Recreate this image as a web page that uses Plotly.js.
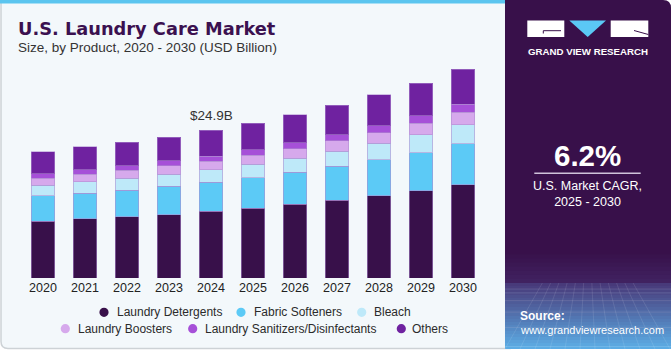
<!DOCTYPE html>
<html>
<head>
<meta charset="utf-8">
<script src="https://cdn.plot.ly/plotly-3.0.1.min.js"></script>
<style>
  html, body { margin: 0; padding: 0; background: #ffffff; }
  #chart { width: 671px; height: 350px; }
</style>
</head>
<body>
<div id="chart"></div>
<script>
// ---------- data ----------
const years = ['2020','2021','2022','2023','2024','2025','2026','2027','2028','2029','2030'];
const seriesNames = ['Laundry Detergents','Fabric Softeners','Bleach','Laundry Boosters','Laundry Sanitizers/Disinfectants','Others'];
const detergents = [9.61, 10.00, 10.34, 10.67, 11.23, 11.74, 12.41, 13.09, 13.88, 14.72, 15.73];
const fabricSofteners = [4.22, 4.33, 4.50, 4.77, 4.89, 5.18, 5.40, 5.73, 6.07, 6.41, 6.91];
const bleach = [1.79, 1.90, 2.00, 2.02, 2.14, 2.25, 2.42, 2.54, 2.75, 3.03, 3.20];
const boosters = [1.24, 1.25, 1.29, 1.43, 1.47, 1.57, 1.59, 1.75, 1.81, 1.97, 2.14];
const sanitizers = [0.73, 0.79, 0.79, 0.88, 0.84, 0.89, 1.01, 1.01, 1.13, 1.23, 1.35];
const others = [3.66, 3.83, 4.00, 4.00, 4.32, 4.50, 4.67, 4.99, 5.28, 5.51, 5.90];
const labelYear = '2024';
const cagrText = '6.2%';
const cagrLabel = 'U.S. Market CAGR,<br>2025 - 2030';

const seriesValues = [detergents, fabricSofteners, bleach, boosters, sanitizers, others];
const colors = ['#38104a', '#5ccaf6', '#bee9f9', '#d6a9ec', '#a650d8', '#6f22a0'];

// ---------- geometry helpers ----------
const W = 671, H = 350;
const M = {l: 22, r: 187, t: 60, b: 72};
const PW = W - M.l - M.r, PH = H - M.t - M.b;
const fx = x => (x - M.l) / PW;
const fy = y => (H - M.b - y) / PH;
const P = (x, y) => fx(x).toFixed(5) + ',' + fy(y).toFixed(5);

const traces = seriesValues.map((vals, i) => ({
  type: 'bar',
  name: seriesNames[i],
  x: years,
  y: vals,
  marker: { color: colors[i], line: { color: 'rgba(175,140,210,0.55)', width: 1 } },
  showlegend: false,
  hoverinfo: 'skip'
}));

const shapes = [];
const annotations = [];

function rectPx(x0, y0, x1, y1, fill, layer) {
  shapes.push({type: 'rect', xref: 'paper', yref: 'paper',
    x0: fx(x0), x1: fx(x1), y0: fy(y1), y1: fy(y0),
    fillcolor: fill, line: {width: 0}, layer: layer || 'below'});
}
function pathPx(d, fill, lineColor, lineWidth, layer) {
  shapes.push({type: 'path', xref: 'paper', yref: 'paper', path: d,
    fillcolor: fill, line: {color: lineColor || 'rgba(0,0,0,0)', width: lineWidth || 0},
    layer: layer || 'below'});
}

// main card
pathPx('M ' + P(1, 1) + ' L ' + P(510, 1) + ' L ' + P(510, 348.5) + ' L ' + P(8, 348.5) +
       ' Q ' + P(1, 348.5) + ' ' + P(1, 341.5) + ' Z', '#f3f8fb', '#cdd2d6', 1.5);
// top blue band
rectPx(0, 0, 510, 3.5, '#5bc5ef');

// right panel
pathPx('M ' + P(505, 0) + ' L ' + P(663, 0) + ' Q ' + P(671, 0) + ' ' + P(671, 8) +
       ' L ' + P(671, 349) + ' L ' + P(505, 349) + ' Z', '#38104a');
// panel lower gradient (approximated with bands)
function lerp(a, b, t) { return Math.round(a + (b - a) * t); }
(function () {
  const top1 = 250, mid = 283, bot = 349;
  const n1 = 8;
  for (let i = 0; i < n1; i++) {
    const t = i / (n1 - 1);
    const y0 = top1 + (mid - top1) * i / n1, y1 = top1 + (mid - top1) * (i + 1) / n1;
    rectPx(505, y0, 671, y1 + 0.5, 'rgb(' + lerp(56, 64, t) + ',' + lerp(16, 34, t) + ',' + lerp(74, 96, t) + ')');
  }
  const n2 = 22;
  for (let i = 0; i < n2; i++) {
    const t = i / (n2 - 1);
    const y0 = mid + (bot - mid) * i / n2, y1 = mid + (bot - mid) * (i + 1) / n2;
    rectPx(505, y0, 671, Math.min(y1 + 0.5, bot), 'rgb(' + lerp(72, 92, t) + ',' + lerp(58, 172, t) + ',' + lerp(122, 228, t) + ')');
  }
  // faint grid texture
  for (let k = 0; k < 6; k++) {
    const y = mid + 6 + k * k * 1.9 + k * 2;
    shapes.push({type: 'line', xref: 'paper', yref: 'paper', x0: fx(505), x1: fx(671), y0: fy(y), y1: fy(y),
      line: {color: 'rgba(255,255,255,0.12)', width: 1}, layer: 'below'});
  }
  for (let k = 0; k < 12; k++) {
    const xb = 505 + k * 15;
    shapes.push({type: 'line', xref: 'paper', yref: 'paper', x0: fx(588 + (xb - 588) * 0.55), x1: fx(xb), y0: fy(mid), y1: fy(bot),
      line: {color: 'rgba(255,255,255,0.10)', width: 1}, layer: 'below'});
  }
})();

// logo
rectPx(527.3, 20.5, 564.3, 37, '#ffffff', 'above');
shapes.push({type: 'line', xref: 'paper', yref: 'paper', x0: fx(543.3), x1: fx(561), y0: fy(30.7), y1: fy(30.7),
  line: {color: '#38104a', width: 1}, layer: 'above'});
shapes.push({type: 'line', xref: 'paper', yref: 'paper', x0: fx(543.3), x1: fx(543.3), y0: fy(30.7), y1: fy(33.5),
  line: {color: '#38104a', width: 1}, layer: 'above'});
pathPx('M ' + P(569.3, 20.5) + ' L ' + P(606, 20.5) + ' L ' + P(587.7, 37) + ' Z', '#5bc8f5', null, 0, 'above');
rectPx(610.7, 20.5, 648.3, 37, '#ffffff', 'above');
shapes.push({type: 'line', xref: 'paper', yref: 'paper', x0: fx(634), x1: fx(648.3), y0: fy(30.5), y1: fy(34.5),
  line: {color: '#38104a', width: 1}, layer: 'above'});

// CAGR separator line
shapes.push({type: 'line', xref: 'paper', yref: 'paper', x0: fx(534.3), x1: fx(640.7), y0: fy(173.3), y1: fy(173.3),
  line: {color: 'rgba(225,215,235,0.9)', width: 1.5}, layer: 'above'});

function textPx(x, y, text, size, color, opts) {
  opts = opts || {};
  annotations.push(Object.assign({
    xref: 'paper', yref: 'paper', x: fx(x), y: fy(y), text: text, showarrow: false,
    xanchor: opts.xanchor || 'left', yanchor: 'middle',
    font: {family: opts.family || 'Liberation Sans, Arial, sans-serif', size: size, color: color, weight: opts.weight || 'normal'}
  }, opts.extra || {}));
}

// titles
textPx(16, 28.5, 'U.S. Laundry Care Market', 17.8, '#3b1150', {family: 'DejaVu Sans, sans-serif', weight: 'bold'});
textPx(16, 47.5, 'Size, by Product, 2020 - 2030 (USD Billion)', 13.5, '#333333');

// legend (custom, two centred rows)
const legendPos = [
  {dot: 104, text: 115, y: 312.3},
  {dot: 241, text: 252, y: 312.3},
  {dot: 361.7, text: 371.7, y: 312.3},
  {dot: 65.3, text: 76.3, y: 328.7},
  {dot: 192.7, text: 203.3, y: 328.7},
  {dot: 401.3, text: 410, y: 328.7}
];
seriesNames.forEach((nm, i) => {
  const p = legendPos[i];
  shapes.push({type: 'circle', xref: 'paper', yref: 'paper',
    x0: fx(p.dot - 4.6), x1: fx(p.dot + 4.6), y0: fy(p.y + 4.6), y1: fy(p.y - 4.6),
    fillcolor: colors[i], line: {width: 0}, layer: 'above'});
  textPx(p.text, p.y, nm, 12, '#2b2b2b');
});

// value label above 2024 (positioned through the library's axes)
const idx = years.indexOf(labelYear);
const total = seriesValues.reduce((s, arr) => s + arr[idx], 0);
annotations.push({xref: 'x', yref: 'y', x: idx, y: total, xanchor: 'center', yanchor: 'bottom', yshift: 5,
  text: '$' + total.toFixed(1) + 'B', showarrow: false,
  font: {family: 'Liberation Sans, Arial, sans-serif', size: 13.5, color: '#333333'}});

// right panel texts
textPx(587.8, 51.7, 'GRAND VIEW RESEARCH', 9.7, '#ffffff', {xanchor: 'center', weight: 'bold'});
textPx(587.3, 155.5, cagrText, 29.5, '#ffffff', {xanchor: 'center', weight: 'bold'});
textPx(587.3, 193.5, cagrLabel, 12.5, '#ffffff', {xanchor: 'center'});
textPx(518, 315.7, 'Source:', 12, '#ffffff', {weight: 'bold'});
textPx(518, 329.5, 'www.grandviewresearch.com', 11, '#ffffff');

const layout = {
  width: W, height: H,
  margin: {l: M.l, r: M.r, t: M.t, b: M.b, pad: 0},
  paper_bgcolor: '#ffffff',
  plot_bgcolor: 'rgba(0,0,0,0)',
  barmode: 'stack',
  bargap: 0.45,
  showlegend: false,
  xaxis: {type: 'category', range: [-0.5, 10.5], showgrid: false, zeroline: false, showline: false,
    ticks: '', tickfont: {family: 'Liberation Sans, Arial, sans-serif', size: 12.5, color: '#222222'}, fixedrange: true},
  yaxis: {range: [0, PH / 5.93], visible: false, showgrid: false, zeroline: false, fixedrange: true},
  shapes: shapes,
  annotations: annotations,
  hovermode: false
};

Plotly.newPlot('chart', traces, layout, {staticPlot: true, displayModeBar: false});
</script>
</body>
</html>
